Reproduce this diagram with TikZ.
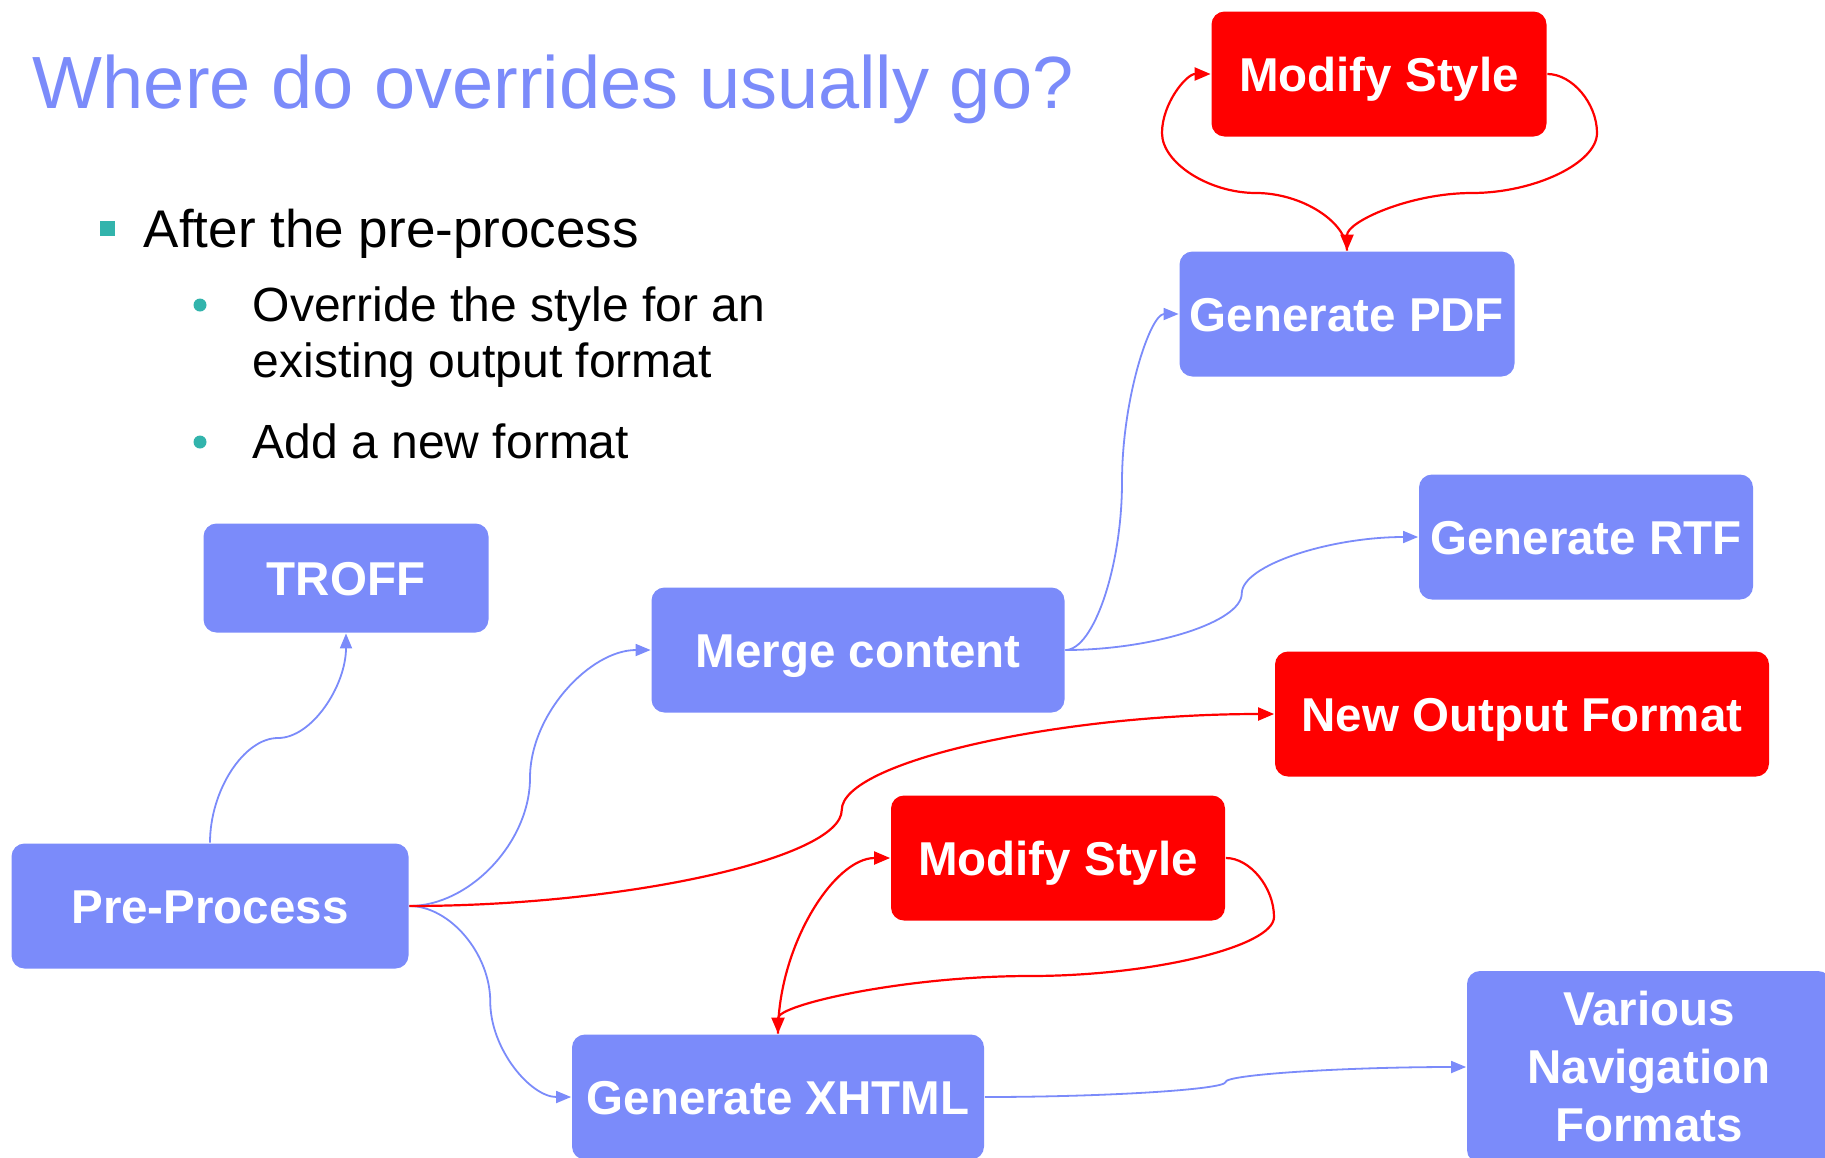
\documentclass[tikz,border=0pt]{standalone}
\usepackage{fontspec}
\setmainfont{Liberation Sans}
\usetikzlibrary{arrows.meta,calc}
\definecolor{boxblue}{RGB}{123,139,250}
\definecolor{bulletteal}{RGB}{50,180,172}

\begin{document}
\begin{tikzpicture}[x = 1pt, y = -1pt, line width = 1.8pt,
                    box/.style = {rectangle, rounded corners = 13pt, text = white, inner sep = 0pt,
                                  font = \bfseries\fontsize{47.5}{58}\selectfont, minimum height = 125pt},
                    bluebox/.style = {box, fill = boxblue, text height = 34pt, text depth = 0pt},
                    redbox/.style = {box, fill = red, text height = 34pt, text depth = 0pt},
                    blueline/.style = {draw = boxblue, line width = 1.8pt, -{Triangle[length = 15pt, width = 12pt]}},
                    redline/.style = {draw = red, line width = 2.2pt, -{Triangle[length = 16pt, width = 13pt]}},
                    hv/.style = {to path = {.. controls ($(\tikztostart)!0.5!(\tikztostart -| \tikztotarget)$)
                                 and ($(\tikztotarget)!0.5!(\tikztostart -| \tikztotarget)$) .. (\tikztotarget)}},
                    vh/.style = {to path = {.. controls ($(\tikztostart)!0.5!(\tikztostart |- \tikztotarget)$)
                                 and ($(\tikztotarget)!0.5!(\tikztostart |- \tikztotarget)$) .. (\tikztotarget)}}]
  \useasboundingbox (0,0) rectangle (1825,1157);
  \clip (0,0) rectangle (1825,1157);

  \node [anchor = base west, inner sep = 0pt, text = boxblue, font = \fontsize{74}{80}\selectfont] (title) at (32,108) {Where do overrides usually go?};
  \node [rectangle, fill = bulletteal, minimum size = 15pt, inner sep = 0pt] (sq1) at (107,228) {};
  \node [anchor = base west, inner sep = 0pt, font = \fontsize{53}{60}\selectfont] (item1) at (143,247) {After the pre-process};
  \node [circle, fill = bulletteal, minimum size = 13pt, inner sep = 0pt] (dot1) at (200,305) {};
  \node [anchor = base west, inner sep = 0pt, font = \fontsize{48}{56}\selectfont] (item1a) at (252,321) {Override the style for an};
  \node [anchor = base west, inner sep = 0pt, font = \fontsize{48}{56}\selectfont] (item1b) at (252,377) {existing output format};
  \node [circle, fill = bulletteal, minimum size = 13pt, inner sep = 0pt] (dot2) at (200,442) {};
  \node [anchor = base west, inner sep = 0pt, font = \fontsize{48}{56}\selectfont] (item2) at (252,458) {Add a new format};

  \node [redbox, minimum width = 335pt] (modtop) at (1379,74) {Modify Style};
  \node [bluebox, minimum width = 335pt] (pdf) at (1347,314) {Generate PDF};
  \node [bluebox, minimum width = 334pt] (rtf) at (1586,537) {Generate RTF};
  \node [bluebox, minimum width = 285pt, minimum height = 109pt] (troff) at (346,578) {TROFF};
  \node [bluebox, minimum width = 413pt] (merge) at (858,650) {Merge content};
  \node [redbox, minimum width = 494pt] (newfmt) at (1522,714) {New Output Format};
  \node [redbox, minimum width = 334pt] (mod2) at (1058,858) {Modify Style};
  \node [bluebox, minimum width = 397pt] (pre) at (210,906) {Pre-Process};
  \node [bluebox, minimum width = 412pt] (xhtml) at (778,1097) {Generate XHTML};
  \node [box, fill = boxblue, align = center, minimum width = 364pt, minimum height = 192pt] (nav) at (1649,1067) {Various\\Navigation\\Formats};

  \coordinate (m1) at ($(pre.north)!0.5!(troff.south)$);
  \coordinate (m2) at ($(pre.east)!0.5!(merge.west)$);
  \coordinate (m3) at ($(pre.east)!0.5!(xhtml.west)$);
  \coordinate (m4) at ($(pre.east)!0.5!(newfmt.west)$);
  \coordinate (m5) at ($(merge.east)!0.5!(pdf.west)$);
  \coordinate (m6) at ($(merge.east)!0.5!(rtf.west)$);
  \coordinate (m7) at ($(xhtml.east)!0.5!(nav.west)$);
  \draw [blueline] (pre.north) to [vh] (m1) to [hv] (troff.south);
  \draw [blueline] (pre.east) to [hv] (m2) to [vh] (merge.west);
  \draw [blueline] (pre.east) to [hv] (m3) to [vh] (xhtml.west);
  \draw [redline] (pre.east) to [hv] (m4) to [vh] (newfmt.west);
  \draw [blueline] (merge.east) to [hv] (m5) to [vh] (pdf.west);
  \draw [blueline] (merge.east) to [hv] (m6) to [vh] (rtf.west);
  \draw [blueline] (xhtml.east) to [hv] (m7) to [vh] (nav.west);

  \coordinate (a1) at (1256,193);
  \coordinate (a2) at (1162,133);
  \coordinate (b1) at (1597,133);
  \coordinate (b2) at (1472,193);
  \draw [redline] (pdf.north) to [vh] (a1) to [hv] (a2) to [vh] (modtop.west);
  \draw [redline] (modtop.east) to [hv] (b1) to [vh] (b2) to [hv] (pdf.north);

  \coordinate (c1) at (1274,917);
  \coordinate (c2) at (1030,976);
  \draw [redline] (xhtml.north) to [vh] (mod2.west);
  \draw [redline] (mod2.east) to [hv] (c1) to [vh] (c2) to [hv] (xhtml.north);
\end{tikzpicture}
\end{document}
